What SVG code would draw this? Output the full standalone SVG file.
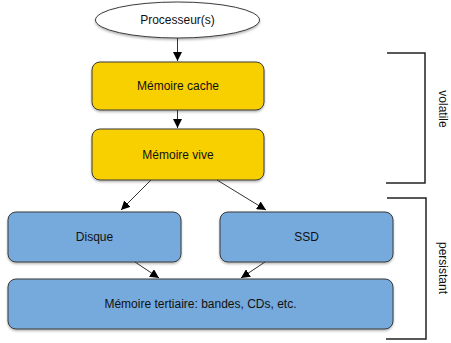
<svg xmlns="http://www.w3.org/2000/svg" width="451" height="343" viewBox="0 0 451 343">
<defs>
<marker id="ah" viewBox="0 0 10 10" refX="10" refY="5" markerWidth="9" markerHeight="9" markerUnits="userSpaceOnUse" orient="auto">
<path d="M0,0 L10,5 L0,10 z" fill="#000"/>
</marker>
<filter id="sh" x="-10%" y="-10%" width="120%" height="130%">
<feDropShadow dx="0" dy="1.5" stdDeviation="1" flood-color="#000" flood-opacity="0.3"/>
</filter>
</defs>
<style>
text{font-family:"Liberation Sans",Arial,sans-serif;font-size:12px;fill:#111;text-anchor:middle;dominant-baseline:central}
.y{fill:#F8D000;stroke:#3a3a3a;stroke-width:1;filter:url(#sh)}
.b{fill:#76A9DC;stroke:#3a3a3a;stroke-width:1;filter:url(#sh)}
.c line{stroke:#333;stroke-width:1;marker-end:url(#ah)}
.br{fill:none;stroke:#222;stroke-width:1.5}
</style>
<g id="processeur"><ellipse cx="177.5" cy="20" rx="82" ry="18" fill="#fff" stroke="#3a3a3a" filter="url(#sh)"/><text x="177.5" y="20">Processeur(s)</text></g>
<g id="cache"><rect class="y" x="92" y="62" width="172" height="48" rx="8"/><text x="178" y="86">Mémoire cache</text></g>
<g id="vive"><rect class="y" x="92" y="129" width="172" height="51" rx="8"/><text x="178" y="155">Mémoire vive</text></g>
<g id="disque"><rect class="b" x="8" y="212" width="173" height="50" rx="8"/><text x="94.5" y="237">Disque</text></g>
<g id="ssd"><rect class="b" x="220" y="212" width="173" height="50" rx="8"/><text x="306.5" y="237">SSD</text></g>
<g id="tertiaire"><rect class="b" x="8" y="279" width="385" height="50" rx="8"/><text x="200.5" y="304">Mémoire tertiaire: bandes, CDs, etc.</text></g>
<g class="c" id="connectors">
<line x1="177.5" y1="38" x2="177.5" y2="61"/>
<line x1="177.5" y1="110" x2="177.5" y2="128"/>
<line x1="151" y1="180" x2="121" y2="210"/>
<line x1="217" y1="180" x2="266" y2="210"/>
<line x1="135" y1="262" x2="159" y2="278"/>
<line x1="265" y1="262" x2="241" y2="278"/>
</g>
<g id="volatile"><path class="br" d="M387,53 H425 V183 H386"/><text x="443" y="109" transform="rotate(90 443 109)">volatile</text></g>
<g id="persistant"><path class="br" d="M387,198 H426 V339 H386"/><text x="443" y="268" transform="rotate(90 443 268)">persistant</text></g>
</svg>
